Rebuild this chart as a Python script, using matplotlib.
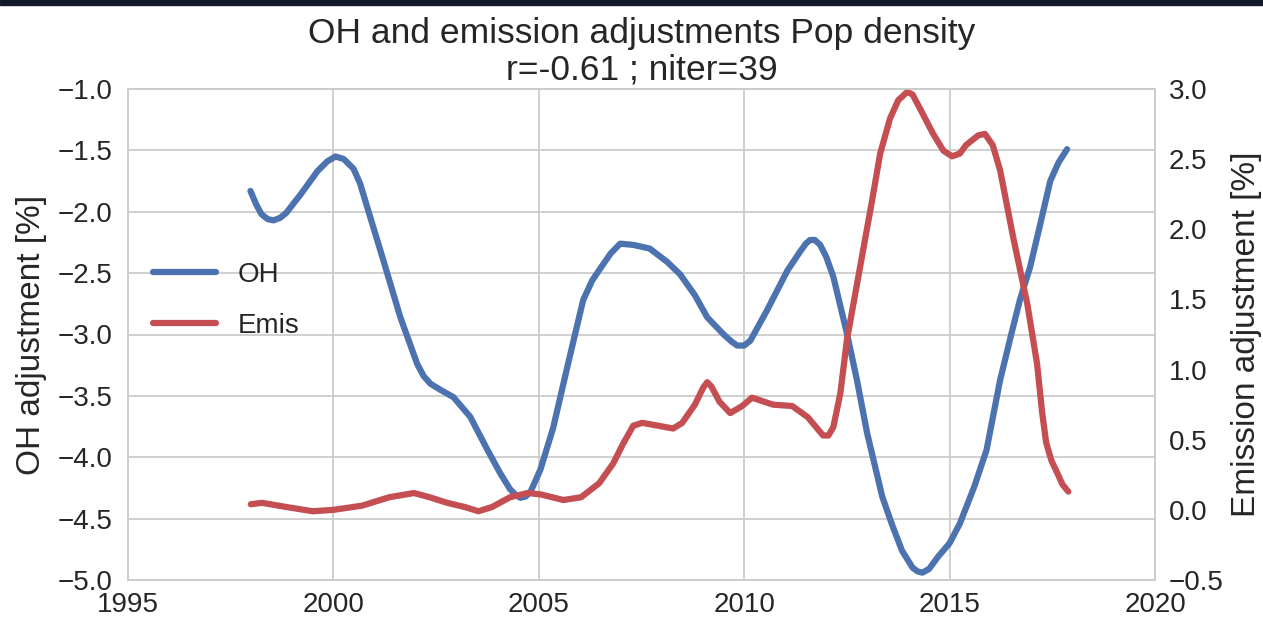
import numpy as np
import matplotlib
matplotlib.use("Agg")
from matplotlib import pyplot as plt
from matplotlib.patches import Rectangle

# OH adjustment (left axis), % per decimal year
oh_years = [1997.98, 1998.12, 1998.25, 1998.4, 1998.54, 1998.7, 1998.85, 1999.2,
            1999.61, 1999.85, 2000.05, 2000.25, 2000.49, 2000.65, 2000.83, 2001.22,
            2001.63, 2002.04, 2002.2, 2002.36, 2002.6, 2002.92, 2003.33, 2003.75,
            2004.06, 2004.3, 2004.45, 2004.55, 2004.68, 2004.8, 2005.04, 2005.35,
            2005.69, 2006.08, 2006.3, 2006.5, 2006.75, 2006.98, 2007.3, 2007.7,
            2008.13, 2008.44, 2008.8, 2009.1, 2009.5, 2009.7, 2009.83, 2010.0,
            2010.15, 2010.56, 2011.05, 2011.35, 2011.5, 2011.6, 2011.72, 2011.85,
            2012.0, 2012.17, 2012.5, 2012.75, 2012.99, 2013.36, 2013.6, 2013.84,
            2014.1, 2014.22, 2014.34, 2014.5, 2014.72, 2015.0, 2015.25, 2015.6,
            2015.9, 2016.23, 2016.5, 2016.71, 2016.96, 2017.2, 2017.45, 2017.65,
            2017.86]
oh_vals = [-1.83, -1.94, -2.02, -2.06, -2.07, -2.05, -2.01, -1.86,
           -1.67, -1.59, -1.55, -1.57, -1.65, -1.77, -1.97, -2.40,
           -2.86, -3.24, -3.34, -3.40, -3.45, -3.51, -3.67, -3.94,
           -4.13, -4.26, -4.31, -4.33, -4.32, -4.28, -4.10, -3.76,
           -3.27, -2.72, -2.56, -2.46, -2.34, -2.26, -2.27, -2.30,
           -2.41, -2.51, -2.68, -2.86, -3.00, -3.06, -3.09, -3.09,
           -3.05, -2.80, -2.48, -2.33, -2.26, -2.23, -2.23, -2.27,
           -2.37, -2.53, -2.99, -3.38, -3.80, -4.32, -4.55, -4.76,
           -4.90, -4.93, -4.94, -4.91, -4.81, -4.70, -4.54, -4.24,
           -3.94, -3.37, -3.00, -2.72, -2.45, -2.11, -1.75, -1.60,
           -1.49]

# Emission adjustment (right axis), %
emis_years = [1997.99, 1998.26, 1998.86, 1999.5, 2000.0, 2000.7, 2001.36, 2001.96,
              2002.34, 2002.77, 2003.2, 2003.53, 2003.86, 2004.3, 2004.73, 2005.05,
              2005.6, 2006.03, 2006.47, 2006.81, 2007.05, 2007.3, 2007.52, 2007.9,
              2008.27, 2008.49, 2008.8, 2009.0, 2009.1, 2009.2, 2009.4, 2009.66,
              2009.95, 2010.19, 2010.7, 2011.17, 2011.55, 2011.92, 2012.05, 2012.17,
              2012.34, 2012.5, 2012.82, 2013.11, 2013.31, 2013.55, 2013.75, 2013.97,
              2014.1, 2014.28, 2014.6, 2014.85, 2015.06, 2015.25, 2015.4, 2015.7,
              2015.86, 2016.05, 2016.23, 2016.55, 2016.89, 2017.13, 2017.25, 2017.35,
              2017.48, 2017.61, 2017.75, 2017.89]
emis_vals = [0.04, 0.05, 0.02, -0.01, 0.00, 0.03, 0.09, 0.12,
             0.09, 0.05, 0.02, -0.01, 0.02, 0.09, 0.12, 0.11,
             0.07, 0.09, 0.19, 0.33, 0.47, 0.60, 0.62, 0.60,
             0.58, 0.62, 0.75, 0.87, 0.91, 0.88, 0.77, 0.69,
             0.74, 0.80, 0.75, 0.74, 0.66, 0.53, 0.53, 0.59,
             0.83, 1.21, 1.73, 2.20, 2.54, 2.79, 2.92, 2.98,
             2.96, 2.86, 2.68, 2.56, 2.52, 2.54, 2.60, 2.67,
             2.68, 2.60, 2.42, 1.94, 1.47, 1.04, 0.70, 0.48,
             0.35, 0.27, 0.18, 0.13]

xticks = [1995, 2000, 2005, 2010, 2015, 2020]
oh_ticks = [-5.0, -4.5, -4.0, -3.5, -3.0, -2.5, -2.0, -1.5, -1.0]
emis_ticks = [-0.5, 0.0, 0.5, 1.0, 1.5, 2.0, 2.5, 3.0]

blue = "#4C72B0"
red = "#C44E52"
text_c = "#262626"
grid_c = "#cccccc"

plt.rcParams["font.family"] = ["Liberation Sans", "DejaVu Sans"]
plt.rcParams["text.color"] = text_c
plt.rcParams["axes.labelcolor"] = text_c
plt.rcParams["xtick.color"] = text_c
plt.rcParams["ytick.color"] = text_c

fig = plt.figure(figsize=(12.63, 6.23), dpi=100)
ax1 = fig.add_axes([128 / 1263, 1 - 580 / 623, (1155 - 128) / 1263, (580 - 89) / 623])
ax2 = ax1.twinx()

l1, = ax1.plot(oh_years, oh_vals, color=blue, lw=4.5, label="OH",
               solid_capstyle="round", solid_joinstyle="round")
l2, = ax2.plot(emis_years, emis_vals, color=red, lw=4.5, label="Emis",
               solid_capstyle="round", solid_joinstyle="round")
ax2.set_zorder(ax1.get_zorder() + 1)
ax2.patch.set_visible(False)

ax1.set_xlim(1995, 2020)
ax1.set_ylim(-5.0, -1.0)
ax2.set_ylim(-0.5, 3.0)
ax1.set_xticks(xticks)
ax1.set_yticks(oh_ticks)
ax2.set_yticks(emis_ticks)
ax1.set_yticklabels(["\u2212%.1f" % abs(v) for v in oh_ticks])
ax2.set_yticklabels([("\u2212%.1f" % abs(v)) if v < 0 else "%.1f" % v for v in emis_ticks])

ax1.grid(True, color=grid_c, lw=1.3)
ax1.set_axisbelow(True)
ax2.grid(False)
for ax in (ax1, ax2):
    for s in ax.spines.values():
        s.set_color(grid_c)
        s.set_linewidth(1.3)
ax1.tick_params(axis="x", length=0, pad=9, labelsize=20)
ax1.tick_params(axis="y", length=0, pad=11, labelsize=20)
ax2.tick_params(axis="y", length=0, pad=10, labelsize=20)

ax1.set_ylabel("OH adjustment [%]", fontsize=24, labelpad=8)
ax2.set_ylabel("Emission adjustment [%]", fontsize=24, labelpad=5)
ax1.set_title("OH and emission adjustments Pop density\nr=-0.61 ; niter=39",
              fontsize=25.5, pad=7, linespacing=1.12)

ax2.legend([l1, l2], ["OH", "Emis"], loc="center left", bbox_to_anchor=(0.0, 0.57),
           frameon=False, fontsize=20, handlelength=2.25, labelspacing=0.9)

# thin dark strip along the top edge
fig.patches.append(Rectangle((0, 1 - 5 / 623), 1, 5 / 623, transform=fig.transFigure,
                             color="#131a2c", zorder=10))

fig.savefig("out.png", dpi=100)
